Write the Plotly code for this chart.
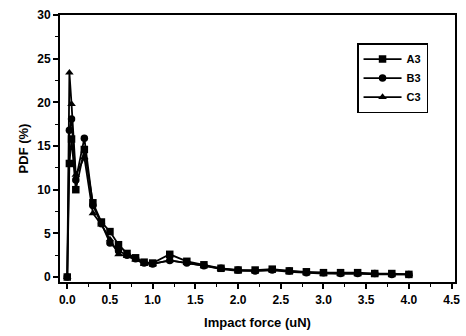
import plotly.graph_objects as go

x_a3 = [0, 0.025, 0.05, 0.1, 0.2, 0.3, 0.4, 0.5, 0.6, 0.7, 0.8, 0.9, 1.0, 1.2, 1.4, 1.6, 1.8, 2.0, 2.2, 2.4, 2.6, 2.8, 3.0, 3.2, 3.4, 3.6, 3.8, 4.0]
a3 = [0, 13.0, 15.8, 10.0, 14.6, 8.5, 6.3, 5.2, 3.7, 2.7, 2.2, 1.7, 1.6, 2.6, 1.8, 1.4, 1.0, 0.8, 0.8, 0.9, 0.7, 0.6, 0.5, 0.5, 0.5, 0.4, 0.4, 0.3]
b3 = [0, 16.8, 18.1, 11.1, 15.9, 8.2, 6.1, 3.9, 3.0, 2.5, 2.1, 1.6, 1.5, 1.9, 1.6, 1.3, 1.0, 0.8, 0.7, 0.8, 0.7, 0.5, 0.5, 0.4, 0.4, 0.4, 0.3, 0.3]
c3 = [0, 23.4, 19.8, 11.7, 13.7, 7.3, 6.0, 4.3, 2.6, 2.4, 2.0, 1.5, 1.5, 1.9, 1.6, 1.3, 0.9, 0.7, 0.7, 0.8, 0.6, 0.5, 0.4, 0.4, 0.4, 0.3, 0.3, 0.3]

series = [("A3", a3, "square"), ("B3", b3, "circle"), ("C3", c3, "triangle-up")]

fig = go.Figure()
for name, ys, sym in series:
    fig.add_trace(go.Scatter(
        x=x_a3, y=ys, name=name, mode="lines+markers",
        line=dict(color="black", width=1.8),
        marker=dict(symbol=sym, size=7.5, color="black"),
    ))

font_family = "Liberation Sans, Arial, sans-serif"
fig.update_layout(
    width=466, height=336,
    margin=dict(l=60, r=11, t=15, b=54),
    paper_bgcolor="white", plot_bgcolor="white",
    font=dict(family=font_family, size=12, color="black"),
    showlegend=True,
    legend=dict(
        x=0.752, y=0.895, xanchor="left", yanchor="top",
        bordercolor="black", borderwidth=1.5, bgcolor="white",
        font=dict(family=font_family, size=11, color="black", weight="bold"),
        itemwidth=38, tracegroupgap=0,
    ),
)
fig.update_xaxes(
    automargin=False,
    range=[-0.085, 4.54], tickmode="array",
    tickvals=[0, 0.5, 1.0, 1.5, 2.0, 2.5, 3.0, 3.5, 4.0, 4.5],
    ticktext=["0.0", "0.5", "1.0", "1.5", "2.0", "2.5", "3.0", "3.5", "4.0", "4.5"],
    ticks="outside", ticklen=5, tickwidth=1.5, tickcolor="black",
    ticklabelstandoff=1,
    minor=dict(dtick=0.25, tick0=0, ticks="outside", ticklen=3, tickcolor="black", tickwidth=1.2),
    showline=True, linecolor="black", linewidth=2, mirror=True,
    showgrid=False, zeroline=False,
    tickfont=dict(family=font_family, size=12, color="black", weight="bold"),
    title=dict(text="Impact force (uN)", font=dict(family=font_family, size=13, color="black", weight="bold"), standoff=11),
)
fig.update_yaxes(
    automargin=False,
    range=[-0.57, 30], tickmode="array",
    tickvals=[0, 5, 10, 15, 20, 25, 30],
    ticks="outside", ticklen=5, tickwidth=1.5, tickcolor="black",
    ticklabelstandoff=0,
    minor=dict(dtick=2.5, tick0=0, ticks="outside", ticklen=3, tickcolor="black", tickwidth=1.2),
    showline=True, linecolor="black", linewidth=2, mirror=True,
    showgrid=False, zeroline=False,
    tickfont=dict(family=font_family, size=12, color="black", weight="bold"),
    title=dict(text="PDF (%)", font=dict(family=font_family, size=13, color="black", weight="bold"), standoff=6),
)

fig.write_html("out.html", config={"displayModeBar": False},
               post_script="document.body.style.margin='0';")
